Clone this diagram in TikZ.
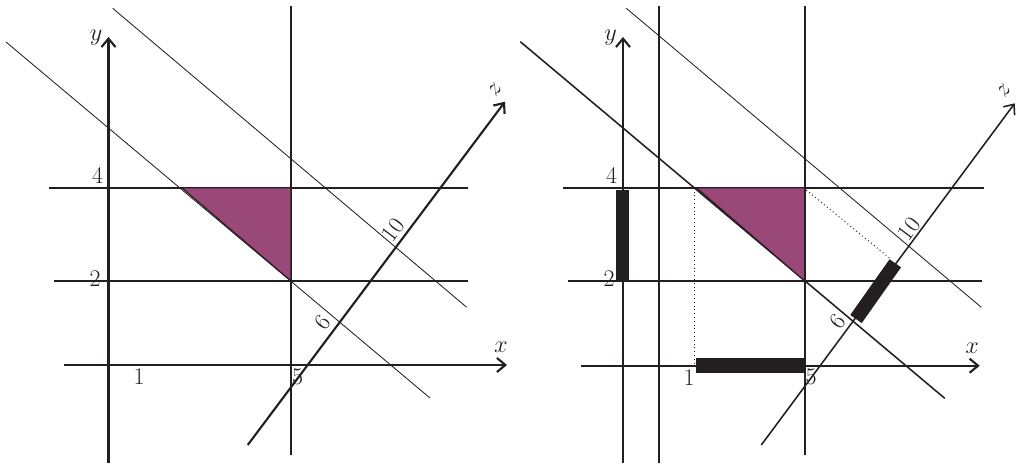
\documentclass[tikz,border=0pt]{standalone}
\usetikzlibrary{arrows.meta}
\definecolor{ink}{HTML}{231F20}
\definecolor{regionfill}{HTML}{9A4878}
\tikzset{
  mainline/.style={draw=ink,line width=1.5pt},
  thinline/.style={draw=ink,line width=0.6pt},
  midline/.style={draw=ink,line width=1.1pt},
  axisarrow/.style={-{Straight Barb[length=6pt,width=10pt,line width=1.5pt]}},
  region/.style={fill=regionfill,draw=ink,line width=0.8pt},
  projbar/.style={draw=ink,line cap=butt},
  projdot/.style={draw=ink,line width=0.7pt,dotted},
  lab/.style={inner sep=0pt,font=\fontsize{17}{19}\selectfont,text=ink},
}
\begin{document}
\begin{tikzpicture}[x=0.025cm,y=-0.025cm]
\useasboundingbox (0,0) rectangle (1016,464);
% ---------------- left panel ----------------
\coordinate (Lyb) at (108.5,463);  \coordinate (Lyt) at (108.5,37);
\coordinate (Lxl) at (64,365);     \coordinate (Lxr) at (507,365);
\coordinate (Lvt) at (291,6);      \coordinate (Lvb) at (291,455);
\coordinate (Lh4l) at (49,187.7);  \coordinate (Lh4r) at (468,187.7);
\coordinate (Lh2l) at (54,281);    \coordinate (Lh2r) at (468,281);
\coordinate (LdAa) at (6,42);      \coordinate (LdAb) at (430,398);
\coordinate (LdBa) at (112.7,8.3); \coordinate (LdBb) at (466.7,307.3);
\coordinate (Lzb) at (247.7,445);  \coordinate (Lzt) at (505,101.7);
\coordinate (LT1) at (181.7,187.7);\coordinate (LT2) at (291,187.7); \coordinate (LT3) at (291,281);

\draw[thinline] (LdAa) -- (LdAb);
\draw[thinline] (LdBa) -- (LdBb);
\draw[mainline] (Lh4l) -- (Lh4r);
\draw[mainline] (Lh2l) -- (Lh2r);
\draw[mainline] (Lvt) -- (Lvb);
\draw[region] (LT1) -- (LT2) -- (LT3) -- cycle;
\draw[mainline,axisarrow] (Lyb) -- (Lyt);
\draw[mainline,axisarrow] (Lxl) -- (Lxr);
\node[lab,fill=white] (L5) at (297.5,377) {5};
\draw[mainline,axisarrow] (Lzb) -- (Lzt);

\node[lab] (Ly) at (96,38) {$y$};
\node[lab] (Lx) at (501,347) {$x$};
\node[lab] (L4) at (97.5,176) {4};
\node[lab] (L2) at (95,279) {2};
\node[lab] (L1) at (139,377) {1};
\node[lab,rotate=53] (L6) at (323,322) {6};
\node[lab,rotate=53] (L10) at (393,230) {10};
\node[lab,rotate=53] (Lz) at (495,90) {$z$};

% ---------------- right panel ----------------
\coordinate (Ryb) at (623,463);    \coordinate (Ryt) at (623,37);
\coordinate (Rwt) at (659,6);      \coordinate (Rwb) at (659,463);
\coordinate (Rvt) at (804.7,6);    \coordinate (Rvb) at (804.7,455);
\coordinate (Rxl) at (581,365.7);  \coordinate (Rxr) at (979.7,365.7);
\coordinate (Rh4l) at (563,187.7); \coordinate (Rh4r) at (984,187.7);
\coordinate (Rh2l) at (568,281);   \coordinate (Rh2r) at (982,281);
\coordinate (RdAa) at (520.3,41.7);\coordinate (RdAb) at (944.7,398.3);
\coordinate (RdBa) at (626.3,8.3); \coordinate (RdBb) at (981.3,307.3);
\coordinate (Rzb) at (761.3,445);  \coordinate (Rzt) at (1014.7,103.3);
\coordinate (RT1) at (696.3,187.7);\coordinate (RT2) at (804.7,187.7); \coordinate (RT3) at (804.7,281);
\coordinate (Rp1a) at (694,191.7); \coordinate (Rp1b) at (694,363);
\coordinate (Rp2a) at (806.3,190); \coordinate (Rp2b) at (889.7,258.3);
\coordinate (Rbya) at (622.7,190); \coordinate (Rbyb) at (622.7,280);
\coordinate (Rbxa) at (696.3,365.2); \coordinate (Rbxb) at (804.7,365.2);
\coordinate (Rbza) at (856,319); \coordinate (Rbzb) at (895.3,263.3);

\draw[midline] (RdAa) -- (RdAb);
\draw[thinline] (RdBa) -- (RdBb);
\draw[mainline] (Rh4l) -- (Rh4r);
\draw[mainline] (Rh2l) -- (Rh2r);
\draw[mainline] (Rvt) -- (Rvb);
\draw[mainline] (Rwt) -- (Rwb);
\draw[region] (RT1) -- (RT2) -- (RT3) -- cycle;
\draw[projdot] (Rp1a) -- (Rp1b);
\draw[projdot] (Rp2a) -- (Rp2b);
\draw[mainline,axisarrow] (Ryb) -- (Ryt);
\draw[mainline,axisarrow] (Rxl) -- (Rxr);
\draw[midline,-{Straight Barb[length=6pt,width=10pt,line width=1.1pt]}] (Rzb) -- (Rzt);
\draw[projbar,line width=9.5pt] (Rbya) -- (Rbyb);
\draw[projbar,line width=10.5pt] (Rbxa) -- (Rbxb);
\draw[projbar,line width=10pt] (Rbza) -- (Rbzb);

\node[lab] (Ry) at (610.5,38) {$y$};
\node[lab] (Rx) at (972,348) {$x$};
\node[lab] (R4) at (611.5,176) {4};
\node[lab] (R2) at (609,279) {2};
\node[lab] (R1) at (689,378) {1};
\node[lab] (R5) at (811,377) {5};
\node[lab,rotate=53] (R6) at (838,321) {6};
\node[lab,rotate=53] (R10) at (909,229) {10};
\node[lab,rotate=53] (Rz) at (1004,91) {$z$};
\end{tikzpicture}
\end{document}
